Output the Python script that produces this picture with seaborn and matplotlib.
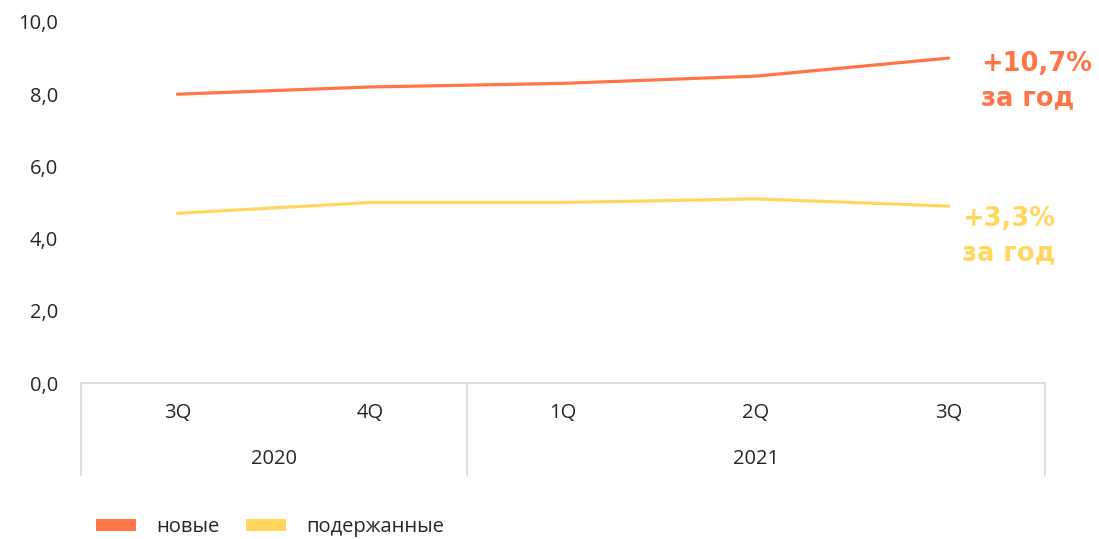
import pandas as pd
import matplotlib
matplotlib.use("Agg")
import matplotlib.pyplot as plt
import matplotlib.transforms as mtransforms
from matplotlib.patches import Patch
import seaborn as sns

# ---- data ----
quarters = ["3Q", "4Q", "1Q", "2Q", "3Q"]
years = ["2020", "2021"]
year_spans = [(0, 2), (2, 5)]  # quarter index ranges per year
new_cars = [8.0, 8.2, 8.3, 8.5, 9.0]
used_cars = [4.7, 5.0, 5.0, 5.1, 4.9]
series_names = ["новые", "подержанные"]
growth_labels = ["+10,7%\nза год", "+3,3%\nза год"]

orange = "#FF7547"
yellow = "#FFD75E"
grid_grey = "#D9D9D9"
text_col = "#262626"

df = pd.DataFrame({
    "idx": list(range(len(quarters))) * 2,
    "value": new_cars + used_cars,
    "series": [series_names[0]] * len(new_cars) + [series_names[1]] * len(used_cars),
})

sns.set_theme(style="white")
plt.rcParams["font.family"] = ["Open Sans", "DejaVu Sans"]
fs = 14.5

fig = plt.figure(figsize=(10.99, 5.39), dpi=100)
ax = fig.add_axes([0.0737, 0.2894, 0.8772, 0.6698])

sns.lineplot(data=df, x="idx", y="value", hue="series",
             palette=[orange, yellow], linewidth=2.3, ax=ax, legend=False)

ax.set_xlim(-0.5, len(quarters) - 0.5)
ax.set_ylim(0, 10)
ax.set_yticks([0, 2, 4, 6, 8, 10])
ax.set_yticklabels([f"{v:.1f}".replace(".", ",") for v in [0, 2, 4, 6, 8, 10]],
                   fontsize=fs, color=text_col)
ax.tick_params(axis="y", length=0, pad=16.5)
ax.set_xticks([])
ax.set_xlabel("")
ax.set_ylabel("")
for s in ax.spines.values():
    s.set_visible(False)

# category axis drawn Excel-style below the plot
trans = mtransforms.blended_transform_factory(ax.transData, ax.transAxes)
bottom = -0.255
ax.plot([-0.5, len(quarters) - 0.5], [0, 0], color=grid_grey, lw=1.3,
        transform=trans, clip_on=False)
for x in [-0.5, 1.5, len(quarters) - 0.5]:
    ax.plot([x, x], [0, bottom], color=grid_grey, lw=1.3,
            transform=trans, clip_on=False)
for i, q in enumerate(quarters):
    ax.text(i, -0.083, q, transform=trans, ha="center", va="center",
            fontsize=fs, color=text_col)
for yr, (a, b) in zip(years, year_spans):
    ax.text((a + b - 1) / 2, -0.211, yr, transform=trans, ha="center",
            va="center", fontsize=fs, color=text_col)

# growth annotations
ax.text(4.17, 9.2, growth_labels[0], ha="left", va="top", fontsize=18.5,
        fontweight="heavy", color=orange, linespacing=1.4,
        family=["DejaVu Sans"])
ax.text(4.07, 4.9, growth_labels[1], ha="left", va="top", fontsize=18.5,
        fontweight="heavy", color=yellow, linespacing=1.4,
        family=["DejaVu Sans"])

handles = [Patch(facecolor=orange, edgecolor="none", label=series_names[0]),
           Patch(facecolor=yellow, edgecolor="none", label=series_names[1])]
fig.legend(handles=handles, loc="center left", bbox_to_anchor=(0.0874, 0.022),
           ncol=2, frameon=False, fontsize=fs, handlelength=2.0,
           handleheight=0.5, columnspacing=1.3, handletextpad=1.0,
           borderpad=0, borderaxespad=0, labelcolor=text_col)

fig.savefig("out.png", dpi=100, facecolor="white")
